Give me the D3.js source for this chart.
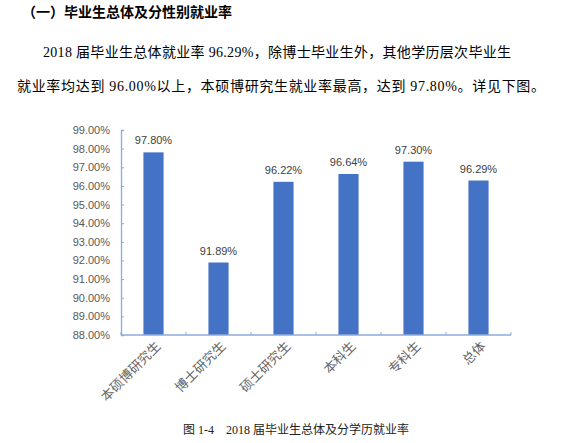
<!DOCTYPE html>
<html lang="zh">
<head>
<meta charset="UTF-8">
<title>2018 届毕业生总体及分学历就业率</title>
<script src="https://cdn.jsdelivr.net/npm/d3@7"></script>
<style>
html, body { margin: 0; padding: 0; background: #fff; }
svg { display: block; }
.title { font: bold 14px "Noto Sans CJK SC", sans-serif; fill: #000; }
.para { font: 14px "Liberation Serif", "Noto Sans CJK SC", serif; fill: #000; }
.caption { font: 12px "Liberation Serif", "Noto Sans CJK SC", serif; fill: #222; }
.ytick text { font: 11px "Liberation Sans", "Noto Sans", sans-serif; fill: #595959; }
.xtick text { font: 13px "Noto Sans CJK SC", serif; fill: #666; }
.value { font: 11px "Liberation Sans", "Noto Sans", sans-serif; fill: #404040; }
</style>
</head>
<body>
<div id="chart"></div>
<script>
const categories = ["本硕博研究生", "博士研究生", "硕士研究生", "本科生", "专科生", "总体"];
const rates = [97.80, 91.89, 96.22, 96.64, 97.30, 96.29];
const yTicks = [88, 89, 90, 91, 92, 93, 94, 95, 96, 97, 98, 99];

const width = 586, height = 443;
const plot = {left: 121, right: 511, top: 130, bottom: 335};

const svg = d3.select("#chart").append("svg")
    .attr("width", width)
    .attr("height", height);

// heading and paragraph above the chart
svg.append("text").attr("class", "title")
    .attr("x", 22).attr("y", 17)
    .text("（一）毕业生总体及分性别就业率");

svg.append("text").attr("class", "para")
    .attr("x", 43).attr("y", 57)
    .attr("textLength", 468).attr("lengthAdjust", "spacing")
    .text("2018 届毕业生总体就业率 96.29%，除博士毕业生外，其他学历层次毕业生");
svg.append("text").attr("class", "para")
    .attr("x", 17).attr("y", 91)
    .attr("textLength", 528).attr("lengthAdjust", "spacing")
    .text("就业率均达到 96.00%以上，本硕博研究生就业率最高，达到 97.80%。详见下图。");

const x = d3.scaleBand()
    .domain(categories)
    .range([plot.left, plot.right])
    .paddingInner(0.69)
    .paddingOuter(0.345);

const y = d3.scaleLinear()
    .domain([88, 99])
    .range([plot.bottom, plot.top]);

const axisColor = "#8eaadb";

// y axis
const yAxis = svg.append("g")
    .attr("class", "ytick")
    .attr("transform", `translate(${plot.left},0)`)
    .call(d3.axisRight(y).tickValues(yTicks).tickSize(3).tickFormat(d => d.toFixed(2) + "%"));
yAxis.select(".domain").attr("stroke", axisColor).attr("stroke-width", 1.3);
yAxis.selectAll(".tick line").attr("stroke", axisColor);
yAxis.selectAll(".tick text").attr("x", -11).attr("text-anchor", "end");

// bars
svg.selectAll("rect.bar")
    .data(rates)
    .join("rect")
    .attr("class", "bar")
    .attr("x", (d, i) => x(categories[i]))
    .attr("y", d => y(d))
    .attr("width", x.bandwidth())
    .attr("height", d => y(88) - y(d))
    .attr("fill", "#4472c4");

svg.selectAll("text.value")
    .data(rates)
    .join("text")
    .attr("class", "value")
    .attr("x", (d, i) => x(categories[i]) + x.bandwidth() / 2)
    .attr("y", d => y(d) - 8)
    .attr("text-anchor", "middle")
    .text(d => d.toFixed(2) + "%");

// x axis with ticks on band boundaries
const step = x.step();
const bounds = d3.range(categories.length + 1).map(i => plot.left + i * step);
const xAxis = svg.append("g").attr("class", "xtick");
xAxis.append("line")
    .attr("x1", plot.left).attr("x2", plot.right)
    .attr("y1", plot.bottom).attr("y2", plot.bottom)
    .attr("stroke", axisColor).attr("stroke-width", 1.3);
xAxis.selectAll("line.tk")
    .data(bounds)
    .join("line")
    .attr("class", "tk")
    .attr("x1", d => d).attr("x2", d => d)
    .attr("y1", plot.bottom).attr("y2", plot.bottom - 3)
    .attr("stroke", axisColor);

xAxis.selectAll("text")
    .data(categories)
    .join("text")
    .attr("text-anchor", "end")
    .attr("transform", d => `translate(${x(d) + x.bandwidth() / 2 + 8},${plot.bottom + 12}) rotate(-45)`)
    .text(d => d);

svg.append("text").attr("class", "caption")
    .attr("x", 183).attr("y", 434)
    .text("图 1-4\u00a0\u00a0\u00a0\u00a02018 届毕业生总体及分学历就业率");
</script>
</body>
</html>
